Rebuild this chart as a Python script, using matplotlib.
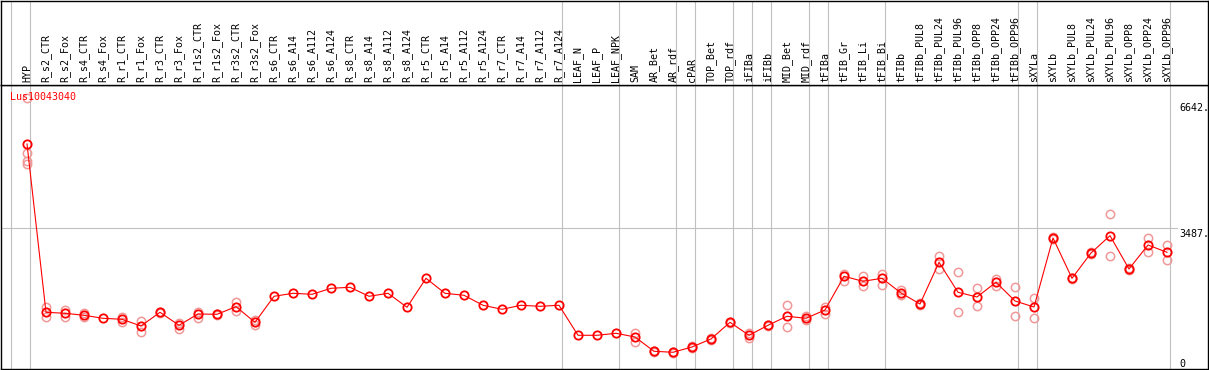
import numpy as np
import matplotlib
matplotlib.use("Agg")
import matplotlib.pyplot as plt
import matplotlib.transforms as mtransforms

gene = "Lus10043040"

samples = ["HYP", "R_s2_CTR", "R_s2_Fox", "R_s4_CTR", "R_s4_Fox", "R_r1_CTR",
           "R_r1_Fox", "R_r3_CTR", "R_r3_Fox", "R_r1s2_CTR", "R_r1s2_Fox",
           "R_r3s2_CTR", "R_r3s2_Fox", "R_s6_CTR", "R_s6_A14", "R_s6_A112",
           "R_s6_A124", "R_s8_CTR", "R_s8_A14", "R_s8_A112", "R_s8_A124",
           "R_r5_CTR", "R_r5_A14", "R_r5_A112", "R_r5_A124", "R_r7_CTR",
           "R_r7_A14", "R_r7_A112", "R_r7_A124", "LEAF_N", "LEAF_P", "LEAF_NPK",
           "SAM", "AR_Bet", "AR_rdf", "cPAR", "TOP_Bet", "TOP_rdf", "iFIBa",
           "iFIBb", "MID_Bet", "MID_rdf", "tFIBa", "tFIB_Gr", "tFIB_Li",
           "tFIB_Bi", "tFIBb", "tFIBb_PUL8", "tFIBb_PUL24", "tFIBb_PUL96",
           "tFIBb_OPP8", "tFIBb_OPP24", "tFIBb_OPP96", "sXYLa", "sXYLb",
           "sXYLb_PUL8", "sXYLb_PUL24", "sXYLb_PUL96", "sXYLb_OPP8",
           "sXYLb_OPP24", "sXYLb_OPP96"]

means = [5528, 1424, 1400, 1351, 1278, 1253, 1090, 1424, 1107, 1383, 1375,
         1561, 1180, 1814, 1887, 1863, 2009, 2034, 1814, 1887, 1546, 2253,
         1887, 1839, 1595, 1497, 1595, 1570, 1595, 863, 863, 912, 822, 473,
         449, 578, 773, 1180, 863, 1107, 1327, 1278, 1480, 2302, 2180, 2253,
         1895, 1626, 2643, 1912, 1797, 2156, 1700, 1553, 3236, 2253, 2870,
         3292, 2480, 3065, 2887]

replicates = [[6642, 5301, 5121, 5040], [1561, 1317], [1480, 1317], [1400, 1317],
              [], [1317, 1195], [1219, 936], [1440, 1405], [1170, 1017],
              [1439, 1278], [1390, 1360], [1683, 1463], [1114, 1245],
              [], [], [], [], [], [], [], [], [], [], [], [], [], [], [], [],
              [], [], [],
              [912, 707], [490, 455], [460, 440], [590, 565], [785, 760],
              [1195, 1165], [927, 800], [1125, 1090], [1602, 1073], [1334, 1236],
              [1561, 1383], [2351, 2195], [2309, 2073], [2351, 2097],
              [1968, 1846], [1640, 1610], [2797, 2473], [2400, 1424],
              [2009, 1570], [2243, 2065], [2034, 1327], [1765, 1292],
              [3250, 3220], [2265, 2240], [2885, 2855], [3814, 2797],
              [2495, 2465], [3229, 2894], [3065, 2692]]

# group separators: drawn just after these sample numbers
group_ends = [0, 1, 29, 32, 35, 36, 38, 39, 40, 42, 43, 46, 53, 54, 61]

axis_values = [6642, 3487, 0]
axis_labels = ["6642.", "3487.", "0"]
grid_value = 3487

W, H = 1209, 370
fig = plt.figure(figsize=(W / 100, H / 100), dpi=100)
fig.patch.set_facecolor("white")

xlim = (1 + (1 - 27) / 19, 1 + (1208 - 27) / 19)
ylim = (41, 6967)

ax = fig.add_axes([1 / W, 1 / H, 1207 / W, 284 / H])
top = fig.add_axes([1 / W, 285 / H, 1207 / W, 84.5 / H])

mono = "DejaVu Sans Mono"
fs = 7.2
grey = "#c0c0c0"

x = np.arange(1, len(samples) + 1)

for a in (ax, top):
    a.set_xlim(*xlim)
    a.set_xticks([])
    a.set_yticks([])
    for s in a.spines.values():
        s.set_color("black")
        s.set_linewidth(1.0)
    for g in group_ends:
        a.axvline(g + 0.18, color=grey, lw=0.8, zorder=1)

ax.set_ylim(*ylim)
top.set_ylim(0, 1)

ax.axhline(grid_value, xmin=0, xmax=0.974, color=grey, lw=0.8, zorder=1)

# replicate points
rx, ry = [], []
for i, reps in enumerate(replicates):
    for v in reps:
        rx.append(x[i])
        ry.append(v)
ax.plot(rx, ry, "o", ms=6, mfc="none", mec="#f09898", mew=1.1, zorder=2,
        clip_on=False)

# mean line
ax.plot(x, means, "-", color="red", lw=0.8, zorder=3)
ax.plot(x, means, "o", ms=6, mfc="none", mec="red", mew=1.3, zorder=4)

# sample names
for xi, name in zip(x, samples):
    top.text(xi, 0.03, name, rotation=90, ha="center", va="bottom",
             fontsize=fs, family=mono, color="black")

ax.text(9 / 1207, 1 - 7 / 284, gene, transform=ax.transAxes, ha="left", va="top",
        fontsize=fs, family=mono, color="red", zorder=5)

# value labels on the right, shifted in pixels (negative = down)
shift_px = [-5, -1.6, 12]
trans = mtransforms.blended_transform_factory(ax.transAxes, ax.transData)
for v, lab, sh in zip(axis_values, axis_labels, shift_px):
    t = trans + mtransforms.ScaledTranslation(0, sh / 100, fig.dpi_scale_trans)
    ax.text(1178 / 1207, v, lab, transform=t, ha="left", va="top",
            fontsize=fs, family=mono, color="black", clip_on=False)

fig.savefig("out.png", dpi=100)
